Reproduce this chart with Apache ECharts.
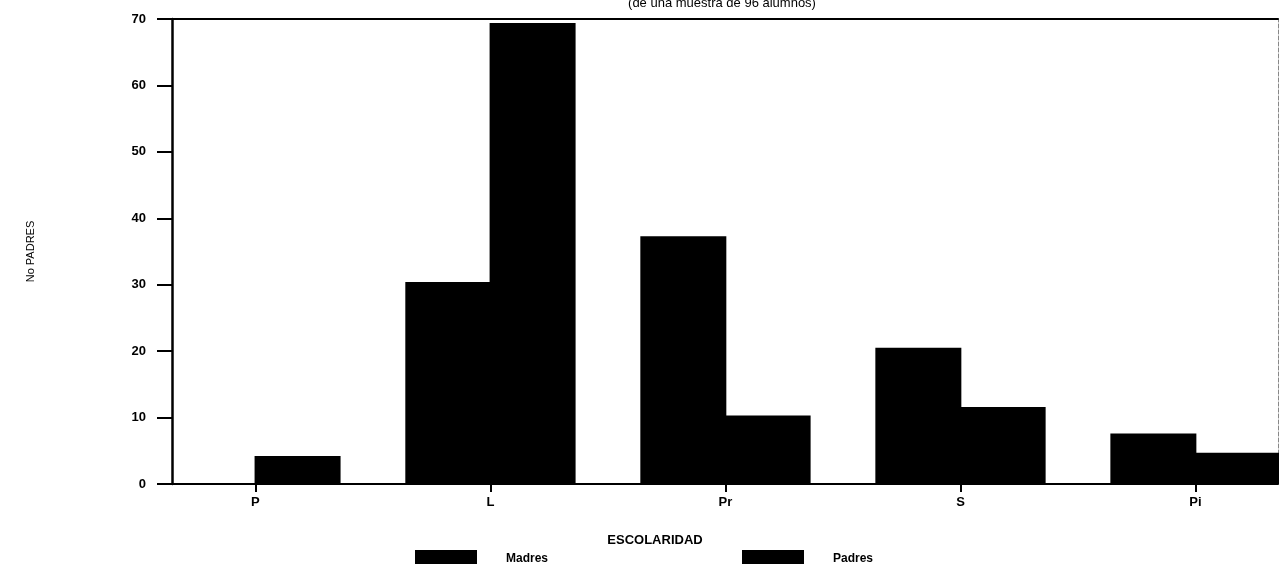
<!DOCTYPE html>
<html>
<head>
<meta charset="utf-8">
<script src="https://cdn.jsdelivr.net/npm/echarts@6/dist/echarts.min.js"></script>
<style>
html,body{margin:0;padding:0;background:#fff;}
#c{width:1279px;height:564px;}
</style>
</head>
<body>
<div id="c"></div>
<script>
var categories = ['P', 'L', 'Pr', 'S', 'Pi'];
var madres = [0, 30.4, 37.3, 20.5, 7.6];
var padres = [4.2, 69.4, 10.3, 11.6, 4.7];
var yTicks = [0, 10, 20, 30, 40, 50, 60, 70];
var titleText = '(de una muestra de 96 alumnos)';
var xName = 'ESCOLARIDAD';
var yName = 'No PADRES';
var seriesNames = ['Madres', 'Padres'];

var chart = echarts.init(document.getElementById('c'));
var font = 'Liberation Sans';
var catIdx = categories.map(function (c, i) { return i; });
function pairs(arr) { return arr.map(function (v, i) { return [i, v]; }); }

var option = {
  backgroundColor: '#fff',
  animation: false,
  title: {
    text: titleText,
    left: 717,
    top: -8,
    textAlign: 'center',
    textStyle: { fontFamily: font, fontSize: 13, fontWeight: 'normal', color: '#000' }
  },
  legend: [
    {
      data: [seriesNames[0]],
      left: 410, top: 545,
      itemWidth: 62, itemHeight: 17,
      icon: 'rect',
      itemStyle: { borderWidth: 0 },
      textStyle: { fontFamily: font, fontSize: 12, fontWeight: 'bold', color: '#000', padding: [0, 0, 0, 24] }
    },
    {
      data: [seriesNames[1]],
      left: 737, top: 545,
      itemWidth: 62, itemHeight: 17,
      icon: 'rect',
      itemStyle: { borderWidth: 0 },
      textStyle: { fontFamily: font, fontSize: 12, fontWeight: 'bold', color: '#000', padding: [0, 0, 0, 24] }
    }
  ],
  grid: { left: 172, right: 1, top: 19, bottom: 80, containLabel: false },
  xAxis: [
    {
      type: 'value',
      min: -0.355,
      max: 4.351,
      position: 'bottom',
      name: xName,
      nameLocation: 'middle',
      nameGap: 50,
      nameTextStyle: { fontFamily: font, fontSize: 13, fontWeight: 'bold', color: '#000', padding: [0, 140, 0, 0] },
      axisLine: { show: true, onZero: false, lineStyle: { color: '#000', width: 2 } },
      axisTick: { show: true, inside: false, length: 8, lineStyle: { color: '#000', width: 2 }, customValues: catIdx },
      axisLabel: {
        customValues: catIdx,
        margin: 12,
        fontFamily: font, fontSize: 13, fontWeight: 'bold', color: '#000',
        formatter: function (v) { return categories[Math.round(v)]; }
      },
      splitLine: { show: false }
    },
    {
      type: 'value',
      min: -0.355,
      max: 4.351,
      position: 'top',
      axisLine: { show: true, onZero: false, lineStyle: { color: '#000', width: 2 } },
      axisTick: { show: false },
      axisLabel: { show: false },
      splitLine: { show: false }
    }
  ],
  yAxis: [
    {
      type: 'value',
      min: 0,
      max: 70,
      interval: 10,
      position: 'left',
      name: yName,
      nameLocation: 'middle',
      nameRotate: 90,
      nameGap: 136,
      nameTextStyle: { fontFamily: font, fontSize: 11, color: '#000' },
      axisLine: { show: true, onZero: false, lineStyle: { color: '#000', width: 2.5 } },
      axisTick: { show: true, inside: false, length: 15, lineStyle: { color: '#000', width: 2 } },
      axisLabel: {
        margin: 26,
        fontFamily: font, fontSize: 13, fontWeight: 'bold', color: '#000',
        customValues: yTicks
      },
      splitLine: { show: false }
    },
    {
      type: 'value',
      min: 0,
      max: 70,
      interval: 10,
      position: 'right',
      axisLine: { show: true, onZero: false, lineStyle: { color: '#888', width: 1, type: 'dashed' } },
      axisTick: { show: false },
      axisLabel: { show: false },
      splitLine: { show: false }
    }
  ],
  series: [
    {
      name: seriesNames[0],
      type: 'bar',
      data: pairs(madres),
      barWidth: 86,
      barGap: '-2%',
      itemStyle: { color: '#000' }
    },
    {
      name: seriesNames[1],
      type: 'bar',
      data: pairs(padres),
      barWidth: 86,
      barGap: '-2%',
      itemStyle: { color: '#000' }
    }
  ]
};
chart.setOption(option);
</script>
</body>
</html>
